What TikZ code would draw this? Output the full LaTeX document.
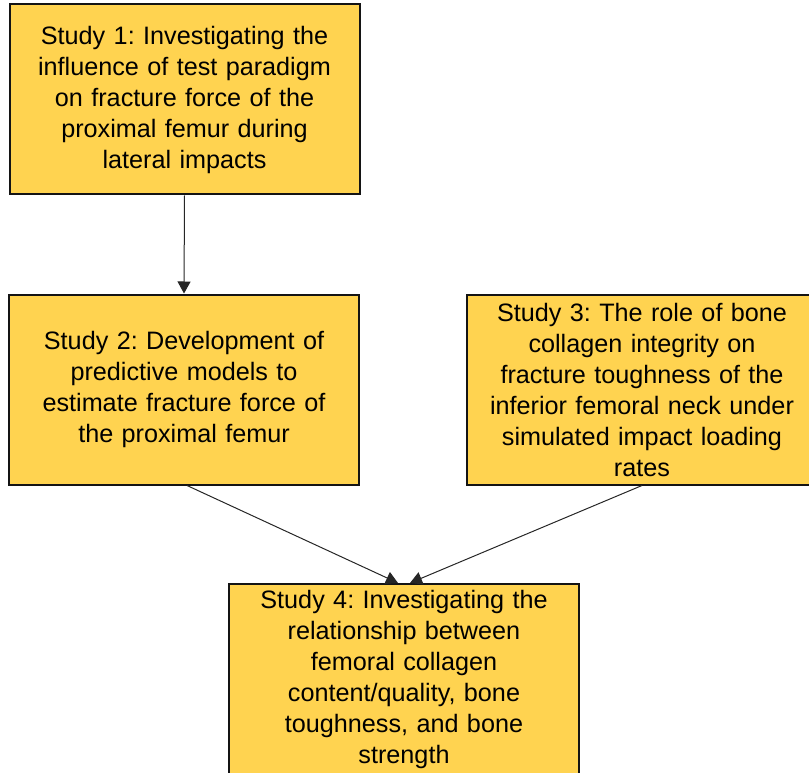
\documentclass[tikz,border=0pt]{standalone}
\usepackage{fontspec}
\setmainfont{Liberation Sans}
\usetikzlibrary{arrows.meta}
\definecolor{boxfill}{RGB}{255,211,80}
\definecolor{boxline}{RGB}{20,20,20}
\tikzset{
  studybox/.style={draw=boxline, line width=2pt, fill=boxfill, rectangle,
    minimum width=350pt, minimum height=190pt, inner sep=0pt,
    text width=345pt, align=center,
    font=\fontsize{25.2}{31}\selectfont},
  link/.style={draw=black!85, line width=1pt, -{Triangle[width=13pt,length=12pt]}}
}
\frenchspacing
\begin{document}
\begin{tikzpicture}[x=1pt,y=-1pt]
\useasboundingbox[clip] (0,0) rectangle (809,773);
\node[studybox] (b1) at (184.5,99.5) {Study 1: Investigating the\\influence of test paradigm\\on fracture force of the\\proximal femur during\\lateral impacts};
\node[studybox] (b2) at (184,389.5) {Study 2: Development of\\predictive models to\\estimate fracture force of\\the proximal femur};
\node[studybox] (b3) at (642,389.5) {Study 3: The role of bone\\collagen integrity on\\fracture toughness of the\\inferior femoral neck under\\simulated impact loading\\rates};
\node[studybox] (b4) at (404,679) {Study 4: Investigating the\\relationship between\\femoral collagen\\content/quality, bone\\toughness, and bone\\strength};
\draw[link] (b1.south) -- (b2.north);
\draw[link] ([xshift=3pt]b2.south) -- ([xshift=-6pt]b4.north);
\draw[link] (b3.south) -- ([xshift=6pt]b4.north);
\end{tikzpicture}
\end{document}
